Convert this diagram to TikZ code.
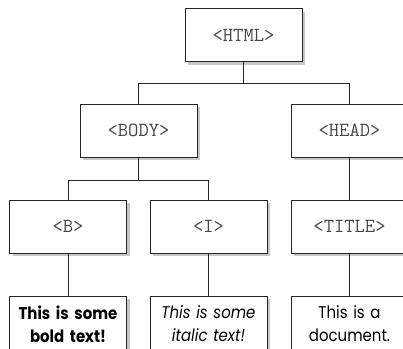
\documentclass[tikz,border=0pt]{standalone}
\usepackage{fontspec}
\setmainfont{Poppins}[FakeStretch=0.88]
\usetikzlibrary{shadows}
\tikzset{
  boxbase/.style={draw=black!85, line width=0.9pt, fill=white,
    drop shadow={shadow xshift=3pt, shadow yshift=-3pt, fill=black!22, opacity=1}},
  tagbox/.style={boxbase, minimum width=117pt, minimum height=53pt,
    font=\ttfamily\fontsize{20}{22}\selectfont, text=black!72},
  textbox/.style={boxbase, anchor=north, minimum width=117pt, text width=110pt,
    align=center, inner ysep=10pt, font=\fontsize{17}{23}\selectfont},
  link/.style={draw=black!85, line width=0.8pt}
}
\begin{document}
\begin{tikzpicture}[x=1pt,y=-1pt]
\useasboundingbox (0,0) rectangle (403,348);
\clip (0,0) rectangle (403,348);
\node[tagbox] (html) at (243.5,35) {<HTML>};
\node[tagbox] (body) at (138.5,130.5) {<BODY>};
\node[tagbox] (head) at (349.5,130.5) {<HEAD>};
\node[tagbox] (b) at (68,226.5) {<B>};
\node[tagbox] (i) at (208.5,226.5) {<I>};
\node[tagbox] (title) at (349.5,226.5) {<TITLE>};
\node[textbox] (btext) at (68,295.5) {\bfseries This is some\\bold text!};
\node[textbox] (itext) at (208.5,295.5) {\itshape This is some\\italic text!};
\node[textbox] (ttext) at (349.5,295.5) {This is a\\document.};
\coordinate (j1) at (244,83);
\coordinate (j2) at (138,180);
\draw[link] (html.south) -- (html.south |- j1) -| (body.north);
\draw[link] (html.south |- j1) -| (head.north);
\draw[link] (body.south) -- (body.south |- j2) -| (b.north);
\draw[link] (body.south |- j2) -| (i.north);
\draw[link] (head.south) -- (title.north);
\draw[link] (b.south) -- (btext.north);
\draw[link] (i.south) -- (itext.north);
\draw[link] (title.south) -- (ttext.north);
\end{tikzpicture}
\end{document}
